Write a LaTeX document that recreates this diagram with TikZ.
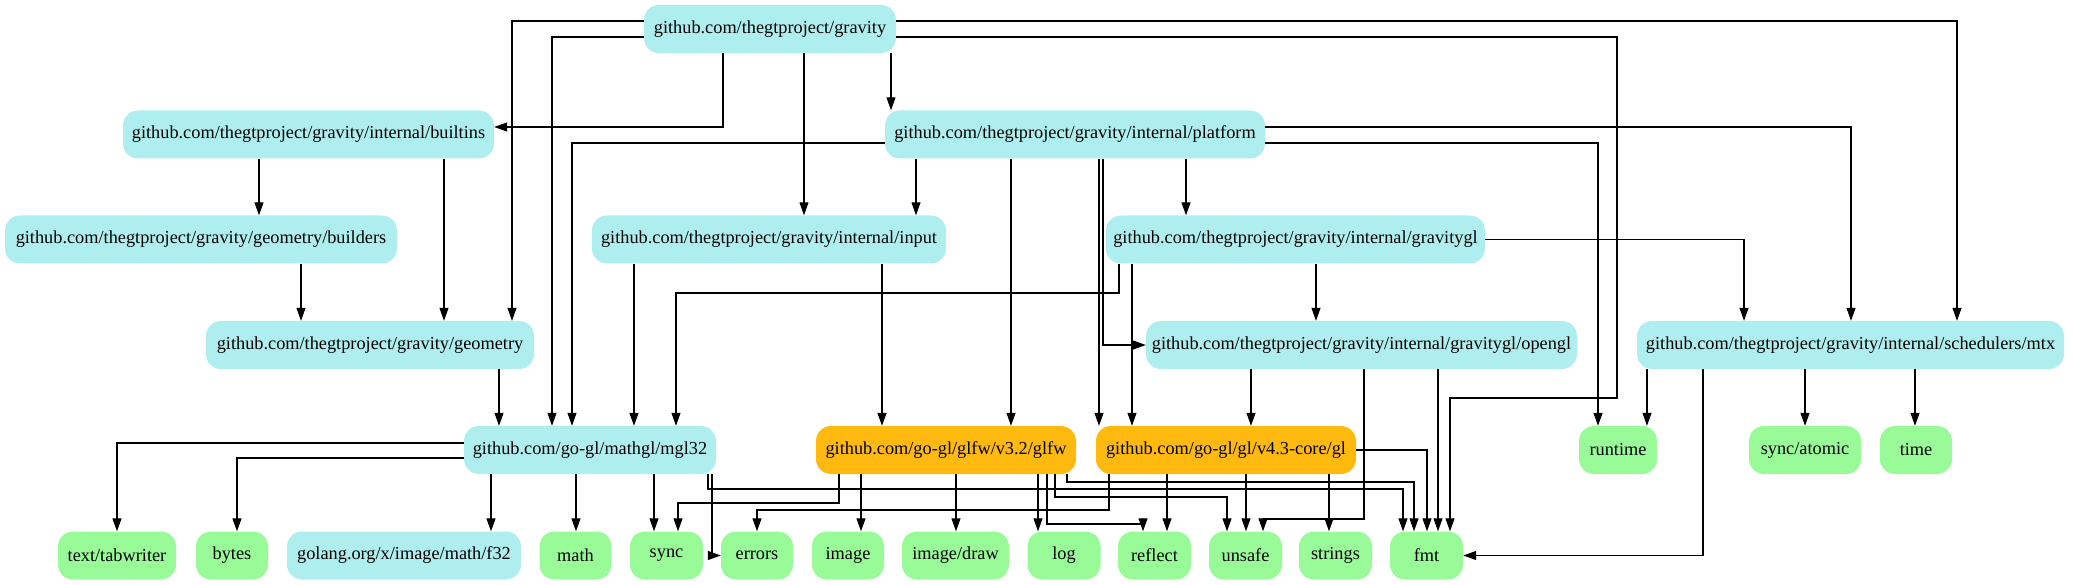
\documentclass[tikz,border=0pt]{standalone}
\usepackage{fontspec}
\setmainfont{Liberation Serif}
\usetikzlibrary{arrows.meta}
\definecolor{cy}{HTML}{AFEEEE}
\definecolor{og}{HTML}{FFB90F}
\definecolor{gr}{HTML}{98FB98}
\begin{document}
\begin{tikzpicture}[x=1pt,y=-1pt,
  pkg/.style={rounded corners=15pt, minimum height=48pt, inner sep=0pt, font=\fontsize{18.3}{20}\selectfont},
  cyn/.style={pkg, fill=cy},
  org/.style={pkg, fill=og},
  grn/.style={pkg, fill=gr},
  e/.style={draw=black, line width=1.1pt, -{Triangle[length=13pt,width=9pt]}}]
\useasboundingbox (0,0) rectangle (2073,585);
% row 0
\node[cyn, minimum width=252pt] (gravity) at (770,29) {github.com/thegtproject/gravity};
% row 1
\node[cyn, minimum width=371pt] (builtins) at (308.5,134.5) {github.com/thegtproject/gravity/internal/builtins};
\node[cyn, minimum width=380pt] (platform) at (1075,134.5) {github.com/thegtproject/gravity/internal/platform};
% row 2
\node[cyn, minimum width=392pt] (builders) at (201,239.5) {github.com/thegtproject/gravity/geometry/builders};
\node[cyn, minimum width=354pt] (input) at (769,239.5) {github.com/thegtproject/gravity/internal/input};
\node[cyn, minimum width=379pt] (gravitygl) at (1295.5,239.5) {github.com/thegtproject/gravity/internal/gravitygl};
% row 3
\node[cyn, minimum width=328pt] (geometry) at (370,345) {github.com/thegtproject/gravity/geometry};
\node[cyn, minimum width=431pt] (opengl) at (1361.5,345) {github.com/thegtproject/gravity/internal/gravitygl/opengl};
\node[cyn, minimum width=427pt] (mtx) at (1850.5,345) {github.com/thegtproject/gravity/internal/schedulers/mtx};
% row 4
\node[cyn, minimum width=252pt] (mgl32) at (590,450) {github.com/go-gl/mathgl/mgl32};
\node[org, minimum width=260pt] (glfw) at (946,450) {github.com/go-gl/glfw/v3.2/glfw};
\node[org, minimum width=260pt] (gl) at (1226,450) {github.com/go-gl/gl/v4.3-core/gl};
\node[grn, minimum width=78pt] (runtime) at (1618,450) {runtime};
\node[grn, minimum width=112pt] (syncatomic) at (1805,450) {sync/atomic};
\node[grn, minimum width=72pt] (time) at (1916,450) {time};
% row 5
\node[grn, minimum width=118pt] (tabwriter) at (117,555.5) {text/tabwriter};
\node[grn, minimum width=72pt] (bytes) at (232,555.5) {bytes};
\node[cyn, minimum width=234pt] (f32) at (404,555.5) {golang.org/x/image/math/f32};
\node[grn, minimum width=72pt] (math) at (575.5,555.5) {math};
\node[grn, minimum width=73pt] (sync) at (666.5,555.5) {sync};
\node[grn, minimum width=72pt] (errors) at (757,555.5) {errors};
\node[grn, minimum width=72pt] (image) at (848,555.5) {image};
\node[grn, minimum width=107pt] (imagedraw) at (955.5,555.5) {image/draw};
\node[grn, minimum width=73pt] (log) at (1064,555.5) {log};
\node[grn, minimum width=73pt] (reflect) at (1154.5,555.5) {reflect};
\node[grn, minimum width=73pt] (unsafe) at (1245.5,555.5) {unsafe};
\node[grn, minimum width=73pt] (strings) at (1335.5,555.5) {strings};
\node[grn, minimum width=73pt] (fmt) at (1426.5,555.5) {fmt};
% gravity
\draw[e] (gravity.west |- 0,21) -| (512,0 |- geometry.north);
\draw[e] (gravity.west |- 0,37) -| (552,0 |- mgl32.north);
\draw[e] (723,0 |- gravity.south) |- (builtins.east |- 0,127);
\draw[e] (804,0 |- gravity.south) -- (804,0 |- input.north);
\draw[e] (891,0 |- gravity.south) -- (891,0 |- platform.north);
\draw[e] (gravity.east |- 0,21) -| (1957,0 |- mtx.north);
\draw[e] (gravity.east |- 0,37) -| (1617,398) -| (1450,0 |- fmt.north);
% platform
\draw[e] (platform.west |- 0,143) -| (572,0 |- mgl32.north);
\draw[e] (916,0 |- platform.south) -- (916,0 |- input.north);
\draw[e] (1011,0 |- platform.south) -- (1011,0 |- glfw.north);
\draw[e] (1099,0 |- platform.south) -- (1099,0 |- gl.north);
\draw[e] (1103,0 |- platform.south) |- (opengl.west);
\draw[e] (1186,0 |- platform.south) -- (1186,0 |- gravitygl.north);
\draw[e] (platform.east |- 0,127) -| (1851,0 |- mtx.north);
\draw[e] (platform.east |- 0,143) -| (1598,0 |- runtime.north);
% input
\draw[e] (634,0 |- input.south) -- (634,0 |- mgl32.north);
\draw[e] (882,0 |- input.south) -- (882,0 |- glfw.north);
% gravitygl
\draw[e] (1119,0 |- gravitygl.south) -- (1119,293) -| (676,0 |- mgl32.north);
\draw[e] (1132,0 |- gravitygl.south) -- (1132,0 |- gl.north);
\draw[e] (1316,0 |- gravitygl.south) -- (1316,0 |- opengl.north);
\draw[e] (gravitygl.east) -| (1744,0 |- mtx.north);
% builtins, builders, geometry
\draw[e] (259,0 |- builtins.south) -- (259,0 |- builders.north);
\draw[e] (444,0 |- builtins.south) -- (444,0 |- geometry.north);
\draw[e] (301,0 |- builders.south) -- (301,0 |- geometry.north);
\draw[e] (499,0 |- geometry.south) -- (499,0 |- mgl32.north);
% opengl
\draw[e] (1251,0 |- opengl.south) -- (1251,0 |- gl.north);
\draw[e] (1364,0 |- opengl.south) -- (1364,519) -| (1263,0 |- unsafe.north);
\draw[e] (1438,0 |- opengl.south) -- (1438,0 |- fmt.north);
% mtx
\draw[e] (1647,0 |- mtx.south) -- (1647,0 |- runtime.north);
\draw[e] (1703,0 |- mtx.south) |- (fmt.east);
\draw[e] (1805,0 |- mtx.south) -- (syncatomic.north);
\draw[e] (1915,0 |- mtx.south) -- (1915,0 |- time.north);
% mgl32
\draw[e] (mgl32.west |- 0,443) -| (tabwriter.north);
\draw[e] (mgl32.west |- 0,458) -| (237,0 |- bytes.north);
\draw[e] (491,0 |- mgl32.south) -- (491,0 |- f32.north);
\draw[e] (576,0 |- mgl32.south) -- (576,0 |- math.north);
\draw[e] (654,0 |- mgl32.south) -- (654,0 |- sync.north);
\draw[e] (708,0 |- mgl32.south) -- (708,489) -| (1403,0 |- fmt.north);
\draw[e] (712,0 |- mgl32.south) |- (errors.west);
% glfw
\draw[e] (839,0 |- glfw.south) -- (839,503) -| (678,0 |- sync.north);
\draw[e] (861,0 |- glfw.south) -- (861,0 |- image.north);
\draw[e] (956,0 |- glfw.south) -- (956,0 |- imagedraw.north);
\draw[e] (1038,0 |- glfw.south) -- (1038,0 |- log.north);
\draw[e] (1047,0 |- glfw.south) -- (1047,524) -| (1143,0 |- reflect.north);
\draw[e] (1055,0 |- glfw.south) -- (1055,497) -| (1227,0 |- unsafe.north);
\draw[e] (1067,0 |- glfw.south) -- (1067,482) -| (1414,0 |- fmt.north);
% gl
\draw[e] (1109,0 |- gl.south) -- (1109,510) -| (757,0 |- errors.north);
\draw[e] (1167,0 |- gl.south) -- (1167,0 |- reflect.north);
\draw[e] (1246,0 |- gl.south) -- (1246,0 |- unsafe.north);
\draw[e] (1329,0 |- gl.south) -- (1329,0 |- strings.north);
\draw[e] (gl.east) -| (1427,0 |- fmt.north);
\end{tikzpicture}
\end{document}
